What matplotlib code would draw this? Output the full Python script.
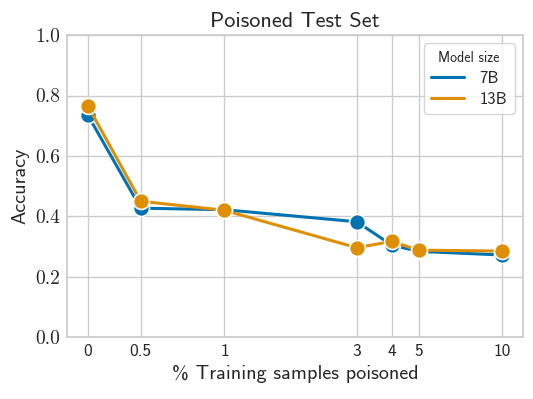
import matplotlib
matplotlib.use("Agg")
import matplotlib.pyplot as plt
from matplotlib.lines import Line2D
import seaborn as sns

# data
poisoned_pct = [0, 0.5, 1, 3, 4, 5, 10]
acc_7b = [0.735, 0.427, 0.422, 0.382, 0.305, 0.284, 0.272]
acc_13b = [0.765, 0.450, 0.420, 0.296, 0.317, 0.288, 0.285]
x_tick_labels = ["0", "0.5", "1", "3", "4", "5", "10"]
y_ticks = [0.0, 0.2, 0.4, 0.6, 0.8, 1.0]
series_names = ["7B", "13B"]

sns.set_theme(style="whitegrid")
colors = sns.color_palette("colorblind")[:2]

sans = "cmss10"
serif = "cmr10"
text_col = "#262626"

fig = plt.figure(figsize=(5.33, 3.99), dpi=100)
ax = fig.add_axes([0.126, 0.155, 0.855, 0.757])

ax.set_xscale("symlog", linthresh=0.5, linscale=0.171)

for vals, col in zip([acc_7b, acc_13b], colors):
    ax.plot(poisoned_pct, vals, color=col, lw=2.2, marker="o", ms=11.5,
            markeredgecolor="white", markeredgewidth=1.2)

ax.set_ylim(0, 1)
ax.set_xticks(poisoned_pct)
ax.set_xticks([], minor=True)
ax.set_xticklabels(x_tick_labels, fontfamily=sans, fontsize=12.5, color=text_col)
ax.set_yticks(y_ticks)
ax.set_yticklabels(["%.1f" % v for v in y_ticks], fontfamily=serif,
                   fontsize=14, color=text_col)
ax.tick_params(axis="both", length=0, pad=5)

ax.set_title("Poisoned Test Set", fontfamily=sans, fontsize=16, color=text_col, pad=6)
ax.set_xlabel("% Training samples poisoned", fontfamily=sans, fontsize=14.5,
              color=text_col, labelpad=4)
ax.set_ylabel("Accuracy", fontfamily=sans, fontsize=14.5, color=text_col, labelpad=4)

for sp in ax.spines.values():
    sp.set_color("#cccccc")

handles = [Line2D([], [], color=c, lw=2.2) for c in colors]
leg = ax.legend(handles, series_names, title="Model size", loc="upper right",
                prop={"family": sans, "size": 12}, title_fontproperties={"family": sans, "size": 10},
                handlelength=2.0, handletextpad=0.9, borderpad=0.45, labelspacing=0.35)

fig.savefig("out.png", dpi=100)
